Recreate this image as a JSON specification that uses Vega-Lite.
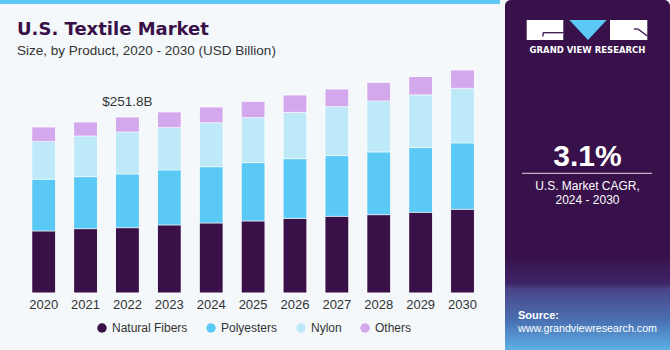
{
  "$schema": "https://vega.github.io/schema/vega-lite/v6.json",
  "background": "#F4F8FB",
  "padding": 0,
  "spacing": 5,
  "config": {"view": {"stroke": null}, "font": "Liberation Sans"},
  "resolve": {"legend": {"color": "independent"}, "scale": {"color": "independent"}},
  "datasets": {
    "market": [
      {"year": "2020", "product": "Natural Fibers", "value": 88.7},
      {"year": "2020", "product": "Polyesters", "value": 74.0},
      {"year": "2020", "product": "Nylon", "value": 53.8},
      {"year": "2020", "product": "Others", "value": 21.0},
      {"year": "2021", "product": "Natural Fibers", "value": 92.0},
      {"year": "2021", "product": "Polyesters", "value": 74.4},
      {"year": "2021", "product": "Nylon", "value": 58.2},
      {"year": "2021", "product": "Others", "value": 20.0},
      {"year": "2022", "product": "Natural Fibers", "value": 93.4},
      {"year": "2022", "product": "Polyesters", "value": 76.8},
      {"year": "2022", "product": "Nylon", "value": 60.1},
      {"year": "2022", "product": "Others", "value": 21.5},
      {"year": "2023", "product": "Natural Fibers", "value": 97.3},
      {"year": "2023", "product": "Polyesters", "value": 78.7},
      {"year": "2023", "product": "Nylon", "value": 60.5},
      {"year": "2023", "product": "Others", "value": 22.5},
      {"year": "2024", "product": "Natural Fibers", "value": 100.1},
      {"year": "2024", "product": "Polyesters", "value": 80.5},
      {"year": "2024", "product": "Nylon", "value": 63.0},
      {"year": "2024", "product": "Others", "value": 22.5},
      {"year": "2025", "product": "Natural Fibers", "value": 103.0},
      {"year": "2025", "product": "Polyesters", "value": 83.4},
      {"year": "2025", "product": "Nylon", "value": 64.4},
      {"year": "2025", "product": "Others", "value": 23.5},
      {"year": "2026", "product": "Natural Fibers", "value": 106.7},
      {"year": "2026", "product": "Polyesters", "value": 85.4},
      {"year": "2026", "product": "Nylon", "value": 66.2},
      {"year": "2026", "product": "Others", "value": 24.9},
      {"year": "2027", "product": "Natural Fibers", "value": 109.6},
      {"year": "2027", "product": "Polyesters", "value": 86.8},
      {"year": "2027", "product": "Nylon", "value": 70.1},
      {"year": "2027", "product": "Others", "value": 25.3},
      {"year": "2028", "product": "Natural Fibers", "value": 112.0},
      {"year": "2028", "product": "Polyesters", "value": 89.7},
      {"year": "2028", "product": "Nylon", "value": 73.0},
      {"year": "2028", "product": "Others", "value": 26.6},
      {"year": "2029", "product": "Natural Fibers", "value": 115.3},
      {"year": "2029", "product": "Polyesters", "value": 92.6},
      {"year": "2029", "product": "Nylon", "value": 75.4},
      {"year": "2029", "product": "Others", "value": 26.2},
      {"year": "2030", "product": "Natural Fibers", "value": 119.6},
      {"year": "2030", "product": "Polyesters", "value": 95.0},
      {"year": "2030", "product": "Nylon", "value": 78.1},
      {"year": "2030", "product": "Others", "value": 26.3}
    ],
    "note": [{"year": "2022", "total": 251.8, "label": "$251.8B"}]
  },
  "hconcat": [
    {
      "spacing": 16,
      "resolve": {"legend": {"color": "independent"}, "scale": {"color": "independent"}},
      "vconcat": [
        {
          "width": 500,
          "height": 4,
          "view": {"fill": "#5BC8F5", "stroke": null},
          "data": {"values": [{}]},
          "mark": {"type": "rect", "opacity": 0},
          "encoding": {}
        },
        {
          "width": 500,
          "height": 228,
          "title": {
            "text": "U.S. Textile Market",
            "subtitle": "Size, by Product, 2020 - 2030 (USD Billion)",
            "anchor": "start",
            "dx": 17,
            "offset": 8,
            "font": "DejaVu Sans",
            "fontSize": 18,
            "fontWeight": "bold",
            "color": "#3A1048",
            "subtitleFont": "Liberation Sans",
            "subtitleFontSize": 13.5,
            "subtitleColor": "#333333",
            "subtitlePadding": 5
          },
          "layer": [
            {
              "data": {"name": "market"},
              "transform": [
                {"calculate": "indexof(['Natural Fibers','Polyesters','Nylon','Others'], datum.product)", "as": "stackorder"}
              ],
              "mark": {"type": "bar", "stroke": "#FFFFFF", "strokeOpacity": 0.55, "strokeWidth": 1, "cornerRadius": 1},
              "encoding": {
                "x": {
                  "field": "year",
                  "type": "ordinal",
                  "scale": {"paddingInner": 0.43, "paddingOuter": 0.684, "align": 0.554},
                  "axis": {"title": null, "domain": false, "ticks": false, "labelAngle": 0, "labelFontSize": 13, "labelColor": "#333333", "labelPadding": 5}
                },
                "y": {
                  "field": "value",
                  "type": "quantitative",
                  "stack": "zero",
                  "scale": {"domain": [0, 326], "nice": false},
                  "axis": null
                },
                "color": {
                  "field": "product",
                  "type": "nominal",
                  "scale": {
                    "domain": ["Natural Fibers", "Polyesters", "Nylon", "Others"],
                    "range": ["#3A1048", "#5BC9F5", "#BDE9F9", "#D4A8EC"]
                  },
                  "legend": {
                    "title": null,
                    "orient": "none",
                    "legendX": 96,
                    "legendY": 257,
                    "direction": "horizontal",
                    "symbolType": "circle",
                    "symbolSize": 90,
                    "symbolStrokeWidth": 0,
                    "labelFontSize": 12,
                    "labelColor": "#333333",
                    "columnPadding": 17
                  }
                },
                "order": {"field": "stackorder", "type": "quantitative", "sort": "ascending"}
              }
            },
            {
              "data": {"name": "note"},
              "mark": {"type": "text", "baseline": "alphabetic", "dy": -11, "fontSize": 13.5, "color": "#333333"},
              "encoding": {
                "x": {"field": "year", "type": "ordinal"},
                "y": {"field": "total", "type": "quantitative"},
                "text": {"field": "label"}
              }
            }
          ]
        }
      ]
    },
    {
      "width": 165,
      "height": 350,
      "view": {"fill": "#38104A", "stroke": null, "cornerRadius": 6},
      "data": {"values": [{}]},
      "layer": [
        {
          "mark": {"type": "rect", "color": {"gradient": "linear", "x1": 0, "y1": 0, "x2": 0, "y2": 1, "stops": [
            {"offset": 0, "color": "#38104A"},
            {"offset": 0.3, "color": "#3E2468"},
            {"offset": 0.36, "color": "#4A4488"},
            {"offset": 0.7, "color": "#4A72B4"},
            {"offset": 1, "color": "#5CB0E4"}
          ]}},
          "encoding": {
            "x": {"datum": 0, "type": "quantitative", "scale": {"domain": [0, 165], "nice": false, "zero": false}, "axis": null},
            "x2": {"datum": 165},
            "y": {"datum": 255, "type": "quantitative", "scale": {"domain": [0, 350], "nice": false, "zero": false, "reverse": true}, "axis": null},
            "y2": {"datum": 350}
          }
        },
        {
          "mark": {"type": "rect", "color": "#FFFFFF"},
          "encoding": {
            "x": {"datum": 21.7, "type": "quantitative"},
            "x2": {"datum": 58.3},
            "y": {"datum": 20, "type": "quantitative"},
            "y2": {"datum": 40}
          }
        },
        {
          "mark": {"type": "rect", "color": "#FFFFFF"},
          "encoding": {
            "x": {"datum": 105, "type": "quantitative"},
            "x2": {"datum": 142.3},
            "y": {"datum": 20, "type": "quantitative"},
            "y2": {"datum": 40}
          }
        },
        {
          "mark": {"type": "rule", "color": "#38104A", "strokeWidth": 1.3},
          "encoding": {
            "x": {"datum": 38, "type": "quantitative"},
            "x2": {"datum": 58.3},
            "y": {"datum": 32.7, "type": "quantitative"},
            "y2": {"datum": 32.7}
          }
        },
        {
          "mark": {"type": "rule", "color": "#38104A", "strokeWidth": 1.3},
          "encoding": {
            "x": {"datum": 38, "type": "quantitative"},
            "x2": {"datum": 38},
            "y": {"datum": 32.7, "type": "quantitative"},
            "y2": {"datum": 36.5}
          }
        },
        {
          "mark": {"type": "rule", "color": "#38104A", "strokeWidth": 1.3},
          "encoding": {
            "x": {"datum": 129, "type": "quantitative"},
            "x2": {"datum": 133},
            "y": {"datum": 29, "type": "quantitative"},
            "y2": {"datum": 29}
          }
        },
        {
          "mark": {"type": "rule", "color": "#38104A", "strokeWidth": 1.3},
          "encoding": {
            "x": {"datum": 133, "type": "quantitative"},
            "x2": {"datum": 142.3},
            "y": {"datum": 29, "type": "quantitative"},
            "y2": {"datum": 36}
          }
        },
        {
          "mark": {"type": "point", "shape": "M-1,-0.535L1,-0.535L0,0.535Z", "filled": true, "color": "#5BC8F5", "size": 1399, "opacity": 1},
          "encoding": {
            "x": {"datum": 83, "type": "quantitative"},
            "y": {"datum": 30, "type": "quantitative"}
          }
        },
        {
          "mark": {"type": "text", "text": "GRAND VIEW RESEARCH", "font": "DejaVu Sans", "fontWeight": "bold", "fontSize": 8.5, "color": "#FFFFFF", "align": "center", "baseline": "alphabetic"},
          "encoding": {
            "x": {"datum": 82.5, "type": "quantitative"},
            "y": {"datum": 53.3, "type": "quantitative"}
          }
        },
        {
          "mark": {"type": "text", "text": "3.1%", "fontWeight": "bold", "fontSize": 30, "color": "#FFFFFF", "align": "center", "baseline": "alphabetic"},
          "encoding": {
            "x": {"datum": 82.5, "type": "quantitative"},
            "y": {"datum": 165.7, "type": "quantitative"}
          }
        },
        {
          "mark": {"type": "rule", "color": "#FFFFFF", "strokeWidth": 1, "opacity": 0.85},
          "encoding": {
            "x": {"datum": 17, "type": "quantitative"},
            "x2": {"datum": 147},
            "y": {"datum": 173.3, "type": "quantitative"},
            "y2": {"datum": 173.3}
          }
        },
        {
          "mark": {"type": "text", "text": "U.S. Market CAGR,", "fontSize": 12, "color": "#FFFFFF", "align": "center", "baseline": "alphabetic"},
          "encoding": {
            "x": {"datum": 82.5, "type": "quantitative"},
            "y": {"datum": 190, "type": "quantitative"}
          }
        },
        {
          "mark": {"type": "text", "text": "2024 - 2030", "fontSize": 12, "color": "#FFFFFF", "align": "center", "baseline": "alphabetic"},
          "encoding": {
            "x": {"datum": 82.5, "type": "quantitative"},
            "y": {"datum": 204.3, "type": "quantitative"}
          }
        },
        {
          "mark": {"type": "text", "text": "Source:", "fontWeight": "bold", "fontSize": 11, "color": "#FFFFFF", "align": "left", "baseline": "alphabetic"},
          "encoding": {
            "x": {"datum": 13, "type": "quantitative"},
            "y": {"datum": 319.3, "type": "quantitative"}
          }
        },
        {
          "mark": {"type": "text", "text": "www.grandviewresearch.com", "fontSize": 10.7, "color": "#FFFFFF", "align": "left", "baseline": "alphabetic"},
          "encoding": {
            "x": {"datum": 13, "type": "quantitative"},
            "y": {"datum": 332, "type": "quantitative"}
          }
        }
      ]
    }
  ]
}
